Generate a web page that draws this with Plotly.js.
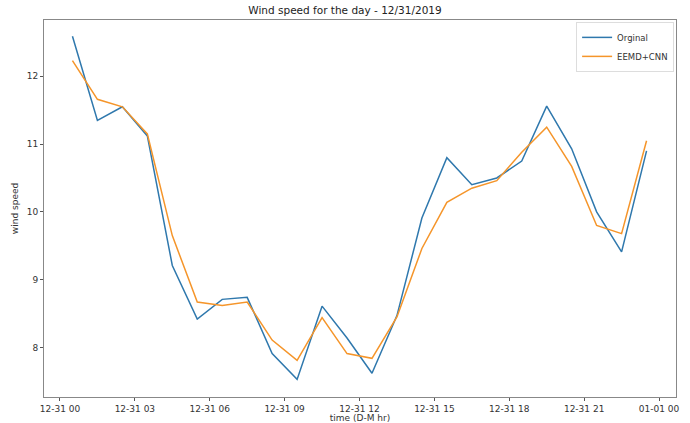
<!DOCTYPE html>
<html>
<head>
<meta charset="utf-8">
<script src="https://cdn.plot.ly/plotly-3.0.1.min.js"></script>
<style>html,body{margin:0;padding:0;background:#fff;}#chart{width:690px;height:423px;}</style>
</head>
<body>
<div id="chart"></div>
<script>
const times = [
  "2019-12-31 00:30","2019-12-31 01:30","2019-12-31 02:30","2019-12-31 03:30",
  "2019-12-31 04:30","2019-12-31 05:30","2019-12-31 06:30","2019-12-31 07:30",
  "2019-12-31 08:30","2019-12-31 09:30","2019-12-31 10:30","2019-12-31 11:30",
  "2019-12-31 12:30","2019-12-31 13:30","2019-12-31 14:30","2019-12-31 15:30",
  "2019-12-31 16:30","2019-12-31 17:30","2019-12-31 18:30","2019-12-31 19:30",
  "2019-12-31 20:30","2019-12-31 21:30","2019-12-31 22:30","2019-12-31 23:30"
];
const original = [12.59, 11.35, 11.55, 11.12, 9.21, 8.42, 8.71, 8.74, 7.91, 7.53, 8.61, 8.14,
                  7.62, 8.47, 9.91, 10.80, 10.40, 10.50, 10.75, 11.56, 10.93, 10.00, 9.41, 10.90];
const eemdCnn  = [12.23, 11.66, 11.55, 11.15, 9.65, 8.67, 8.62, 8.67, 8.11, 7.81, 8.44, 7.91,
                  7.84, 8.45, 9.46, 10.14, 10.35, 10.46, 10.88, 11.25, 10.67, 9.80, 9.68, 11.05];
const tickVals = ["2019-12-31 00:00","2019-12-31 03:00","2019-12-31 06:00","2019-12-31 09:00",
                  "2019-12-31 12:00","2019-12-31 15:00","2019-12-31 18:00","2019-12-31 21:00","2020-01-01 00:00"];
const tickText = ["12-31 00","12-31 03","12-31 06","12-31 09","12-31 12","12-31 15","12-31 18","12-31 21","01-01 00"];
const yTicks = [8, 9, 10, 11, 12];

const font = {family: "DejaVu Sans, sans-serif", size: 9, color: "#333"};
const traces = [
  {x: times, y: original, name: "Orginal", type: "scatter", mode: "lines",
   line: {color: "#2f78ad", width: 1.5}},
  {x: times, y: eemdCnn, name: "EEMD+CNN", type: "scatter", mode: "lines",
   line: {color: "#f5952a", width: 1.5}}
];
const layout = {
  width: 690, height: 423,
  margin: {l: 44, r: 14, t: 20, b: 26},
  paper_bgcolor: "#fff", plot_bgcolor: "#fff",
  font: font,
  showlegend: true,
  title: {text: "Wind speed for the day - 12/31/2019", font: {family: "DejaVu Sans, sans-serif", size: 10.5, color: "#222"},
          x: 0.5, xanchor: "center", y: 0.985, yanchor: "top"},
  xaxis: {
    type: "date",
    range: ["2019-12-30 23:21:36", "2020-01-01 00:40:48"],
    tickmode: "array", tickvals: tickVals, ticktext: tickText,
    ticks: "outside", ticklen: 3, tickcolor: "#555",
    showgrid: false, zeroline: false,
    showline: true, linecolor: "#888", linewidth: 1, mirror: true,
    tickfont: font,
    title: {text: "time (D-M hr)", font: font, standoff: 0}
  },
  yaxis: {
    range: [7.27, 12.83],
    tickmode: "array", tickvals: yTicks,
    ticks: "outside", ticklen: 3, tickcolor: "#555",
    showgrid: false, zeroline: false,
    showline: true, linecolor: "#888", linewidth: 1, mirror: true,
    tickfont: font,
    title: {text: "wind speed", font: font, standoff: 6}
  },
  legend: {x: 0.997, xanchor: "right", y: 0.995, yanchor: "top",
           bgcolor: "rgba(255,255,255,0.9)", bordercolor: "#ddd", borderwidth: 1,
           font: {family: "DejaVu Sans, sans-serif", size: 8.5, color: "#333"},
           tracegroupgap: 0, itemwidth: 30}
};
Plotly.newPlot("chart", traces, layout, {displayModeBar: false, staticPlot: true});
</script>
</body>
</html>
